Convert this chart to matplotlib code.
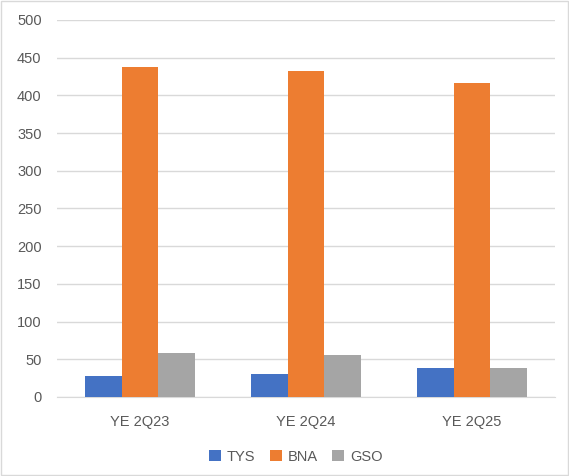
import matplotlib.pyplot as plt
import numpy as np
from matplotlib.patches import Rectangle

categories = ['YE 2Q23', 'YE 2Q24', 'YE 2Q25']
tys = [28, 31, 38]
bna = [437, 432, 416]
gso = [58, 56, 38]

plt.rcParams['font.family'] = ['Liberation Sans', 'DejaVu Sans']

fig = plt.figure(figsize=(5.69, 4.76), dpi=100)
ax = fig.add_axes([0.100, 0.166, 0.875, 0.792])

x = np.arange(len(categories))
w = 0.22
ax.bar(x - w, tys, w, color='#4472C4', label='TYS', zorder=3)
ax.bar(x, bna, w, color='#ED7D31', label='BNA', zorder=3)
ax.bar(x + w, gso, w, color='#A5A5A5', label='GSO', zorder=3)

ax.set_xlim(-0.5, 2.5)
ax.set_ylim(0, 500)
ax.set_yticks(range(0, 501, 50))
ax.set_xticks(x)
ax.set_xticklabels(categories)
ax.grid(axis='y', color='#d9d9d9', linewidth=1, zorder=0)
for s in ['top', 'right', 'left']:
    ax.spines[s].set_visible(False)
ax.spines['bottom'].set_color('#d9d9d9')
ax.tick_params(axis='both', length=0, colors='#595959', labelsize=10.5)
ax.tick_params(axis='x', pad=13)
ax.tick_params(axis='y', pad=11)

fig.legend(loc='center', bbox_to_anchor=(0.52, 0.04), ncol=3, frameon=False,
           fontsize=10.5, handlelength=0.8, handleheight=0.8, columnspacing=1.0,
           handletextpad=0.4, labelcolor='#595959')

fig.patches.append(Rectangle((0.002, 0.002), 0.996, 0.996, transform=fig.transFigure,
                             fill=False, edgecolor='#d9d9d9', linewidth=1))

fig.savefig('out.png', dpi=100)
